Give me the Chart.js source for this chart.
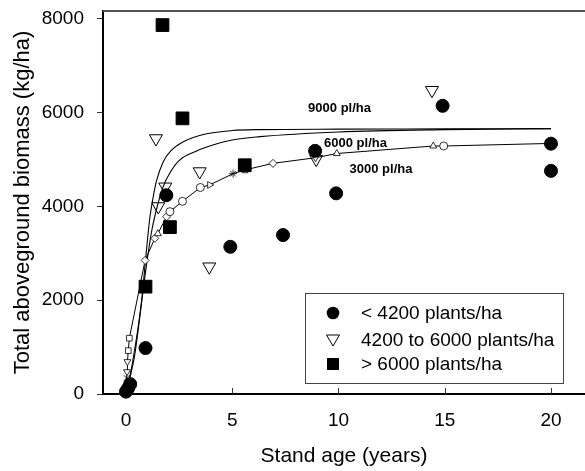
<!DOCTYPE html>
<html><head><meta charset="utf-8">
<script src="https://cdn.jsdelivr.net/npm/chart.js@4/dist/chart.umd.min.js"></script>
<style>html,body{margin:0;padding:0;background:#fff;overflow:hidden}</style>
</head><body>
<canvas id="c" width="585" height="471"></canvas>
<script>
// ---------- data ----------
const xTickValues = [0, 5, 10, 15, 20];
const yTickValues = [0, 2000, 4000, 6000, 8000];

// < 4200 plants/ha (filled circles)
const lowX = [0, 0.1, 0.2, 0.92, 1.9, 4.91, 7.39, 8.9, 9.89, 14.9, 20, 20];
const lowY = [50, 120, 210, 980, 4240, 3140, 3390, 5187, 4280, 6147, 5340, 4760];
// 4200 to 6000 plants/ha (open down triangles)
const midX = [1.41, 1.52, 1.85, 3.47, 3.92, 8.95, 14.4];
const midY = [5450, 4000, 4420, 4745, 2715, 5010, 6480];
// > 6000 plants/ha (filled squares)
const highX = [0.92, 1.72, 2.07, 2.66, 5.59];
const highY = [2290, 7870, 3560, 5880, 4880];

// fitted curves
const c9000X = [0, 0.3, 0.74, 0.95, 1.13, 1.28, 1.44, 1.75, 2.1, 2.7, 3.8, 5, 6.3, 10, 15, 20];
const c9000Y = [0, 650, 2000, 3000, 3780, 4200, 4550, 4950, 5180, 5380, 5550, 5620, 5640, 5650, 5655, 5660];
const c6000X = [0, 0.4, 0.89, 1.2, 1.5, 1.75, 2.07, 2.5, 3.3, 3.8, 5, 6.3, 10, 15, 20];
const c6000Y = [0, 800, 2500, 3450, 4050, 4420, 4720, 4980, 5180, 5270, 5420, 5490, 5590, 5640, 5660];
const c3000X = [0, 0.03, 0.05, 0.07, 0.11, 0.16, 0.9, 1.36, 1.5, 1.91, 2.07, 2.66, 3.5, 3.94, 5.04, 5.6, 6.92, 8.92, 9.92, 14.46, 14.95, 20];
const c3000Y = [60, 340, 475, 690, 925, 1190, 2850, 3320, 3420, 3780, 3890, 4110, 4405, 4460, 4700, 4780, 4920, 5040, 5130, 5290, 5290, 5345];

const legendLabels = ['< 4200 plants/ha', '4200 to 6000 plants/ha', '> 6000 plants/ha'];
const curveLabels = ['9000 pl/ha', '6000 pl/ha', '3000 pl/ha'];
const curveLabelX = [10.05, 10.8, 12.0];
const curveLabelY = [6100, 5350, 4800];

// ---------- build ----------
const pts = (xs, ys) => xs.map((x, i) => ({x, y: ys[i]}));
const markerShapes = ['circle','crossRot','triangle','triangle','rect','rect','rectRot','rectRot','triangle','rectRot','circle','circle','circle','triangle','star','rect','rectRot','triangle','triangle','triangle','circle','circle'];
const markerRot = [0,0,180,180,0,0,0,0,0,0,0,0,0,90,0,0,0,180,0,0,0,0];
const markerRad = c3000X.map((v, i) => (i === 0 || i === c3000X.length - 1) ? 0 : 4);

const FONT = "'Liberation Sans', Arial, sans-serif";

const framePlugin = {
  id: 'frame',
  beforeDatasetsDraw(chart) {
    const {ctx, chartArea: a, scales: {x}} = chart;
    ctx.save();
    ctx.strokeStyle = '#555'; ctx.lineWidth = 2;
    ctx.beginPath(); ctx.moveTo(a.left, a.top); ctx.lineTo(chart.width, a.top); ctx.stroke();
    ctx.strokeStyle = '#333'; ctx.lineWidth = 1;
    xTickValues.forEach(v => {
      const px = Math.round(x.getPixelForValue(v)) + 0.5;
      ctx.beginPath(); ctx.moveTo(px, a.bottom); ctx.lineTo(px, a.bottom - 6); ctx.stroke();
    });
    ctx.restore();
  },
  afterDatasetsDraw(chart) {
    const {ctx, scales: {x, y}} = chart;
    ctx.save();
    ctx.font = "bold 13px " + FONT;
    ctx.fillStyle = '#000'; ctx.textAlign = 'center'; ctx.textBaseline = 'middle';
    curveLabels.forEach((t, i) => ctx.fillText(t, x.getPixelForValue(curveLabelX[i]), y.getPixelForValue(curveLabelY[i])));
    // legend box
    const bx = 305.5, by = 293.5, bw = 258, bh = 90;
    ctx.fillStyle = '#fff'; ctx.fillRect(bx, by, bw, bh);
    ctx.strokeStyle = '#444'; ctx.lineWidth = 1; ctx.strokeRect(bx, by, bw, bh);
    const rows = [313, 340, 364];
    const mx = 333;
    ctx.fillStyle = '#000';
    ctx.beginPath(); ctx.arc(mx, rows[0], 6.3, 0, Math.PI * 2); ctx.fill();
    ctx.beginPath(); ctx.moveTo(mx - 6.5, rows[1] - 5); ctx.lineTo(mx + 6.5, rows[1] - 5); ctx.lineTo(mx, rows[1] + 6); ctx.closePath();
    ctx.strokeStyle = '#000'; ctx.stroke();
    ctx.fillRect(mx - 6, rows[2] - 6, 12, 12);
    ctx.font = "19px " + FONT; ctx.textAlign = 'left'; ctx.textBaseline = 'middle';
    legendLabels.forEach((t, i) => ctx.fillText(t, 361, rows[i] + 1));
    ctx.restore();
  }
};

new Chart(document.getElementById('c'), {
  type: 'scatter',
  data: {
    datasets: [
      { data: pts(lowX, lowY), pointStyle: 'circle', pointRadius: 6.5, backgroundColor: '#000', borderColor: '#000', clip: false },
      { data: pts(highX, highY), pointStyle: 'rect', pointRadius: 9, backgroundColor: '#000', borderColor: '#000', clip: false },
      { data: pts(midX, midY), pointStyle: 'triangle', pointRotation: 180, pointRadius: 7.5, backgroundColor: 'rgba(255,255,255,0)', borderColor: '#000', borderWidth: 1, clip: false },
      { data: pts(c3000X, c3000Y), showLine: true, borderColor: '#000', borderWidth: 1, tension: 0,
        pointStyle: markerShapes, pointRotation: markerRot, pointRadius: markerRad, pointBorderWidth: 0.8,
        pointBackgroundColor: '#fff', pointBorderColor: '#000', clip: false },
      { data: pts(c6000X, c6000Y), showLine: true, borderColor: '#000', borderWidth: 1.1, pointRadius: 0, cubicInterpolationMode: 'monotone' },
      { data: pts(c9000X, c9000Y), showLine: true, borderColor: '#000', borderWidth: 1.1, pointRadius: 0, cubicInterpolationMode: 'monotone' }
    ]
  },
  options: {
    responsive: false, animation: false, devicePixelRatio: 1,
    layout: { autoPadding: false, padding: { top: 11, right: 0, left: 0, bottom: 0 } },
    plugins: { legend: { display: false }, tooltip: { enabled: false } },
    scales: {
      x: {
        type: 'linear', min: -1.08, max: 21.6,
        afterBuildTicks: s => { s.ticks = xTickValues.map(v => ({value: v})); },
        afterFit: s => { s.height = 77; s.paddingLeft = 0; s.paddingRight = 0; },
        grid: { display: true, drawOnChartArea: false, drawTicks: false },
        border: { display: true, color: '#000', width: 2 },
        ticks: { color: '#000', font: { family: FONT, size: 19 }, padding: 15, maxRotation: 0 },
        title: { display: true, text: 'Stand age (years)', color: '#000', font: { family: FONT, size: 21 }, padding: { top: 0, bottom: 2 } }
      },
      y: {
        type: 'linear', min: 0, max: 8170,
        afterBuildTicks: s => { s.ticks = yTickValues.map(v => ({value: v})); },
        afterFit: s => { s.width = 103; s.paddingTop = 0; s.paddingBottom = 0; },
        grid: { display: true, drawOnChartArea: false, drawTicks: true, tickLength: 6, color: '#333' },
        border: { display: true, color: '#000', width: 2 },
        ticks: { color: '#000', font: { family: FONT, size: 19 }, padding: 13, callback: v => String(v) },
        title: { display: true, text: 'Total aboveground biomass (kg/ha)', color: '#000', font: { family: FONT, size: 22 }, padding: { top: 10, bottom: 0 } }
      }
    }
  },
  plugins: [framePlugin]
});
</script>
</body></html>
